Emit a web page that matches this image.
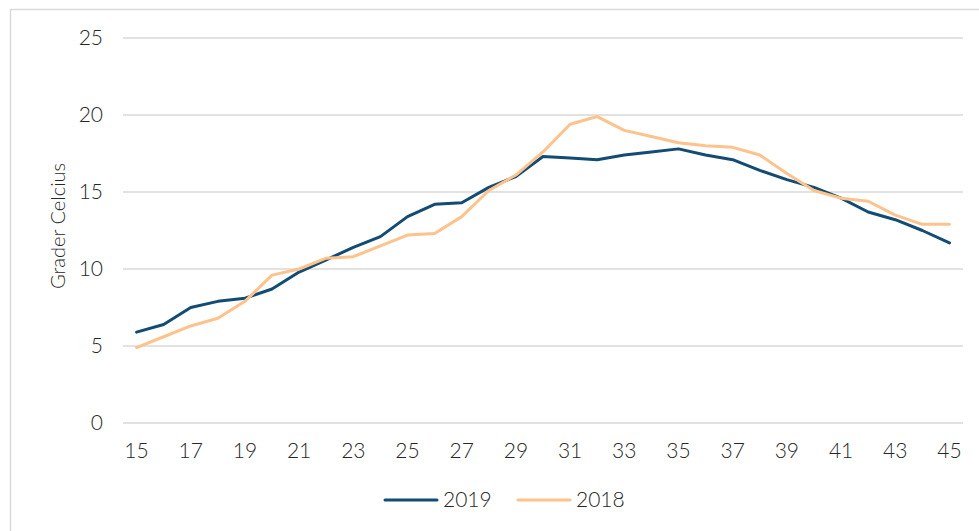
<!DOCTYPE html>
<html lang="en">
  <head>
    <meta charset="utf-8" />
    <title>Grader Celcius 2019 / 2018</title>
    <script src="https://d3js.org/d3.v7.min.js"></script>
    <style>
      body { margin: 0; background: #fff; }
      text { font-family: Lato, "Open Sans", sans-serif; font-weight: 300; fill: #262626; }
    </style>
  </head>
  <body>
    <div id="content"></div>
    <script>
      // weeks 15..45
      const weeks = [15, 16, 17, 18, 19, 20, 21, 22, 23, 24, 25, 26, 27, 28, 29, 30,
        31, 32, 33, 34, 35, 36, 37, 38, 39, 40, 41, 42, 43, 44, 45];
      const temps2019 = [5.9, 6.4, 7.5, 7.9, 8.1, 8.7, 9.8, 10.6, 11.4, 12.1, 13.4, 14.2,
        14.3, 15.3, 16.0, 17.3, 17.2, 17.1, 17.4, 17.6, 17.8, 17.4, 17.1, 16.4, 15.8,
        15.3, 14.6, 13.7, 13.2, 12.5, 11.7];
      const temps2018 = [4.9, 5.6, 6.3, 6.8, 7.9, 9.6, 10.0, 10.7, 10.8, 11.5, 12.2, 12.3,
        13.4, 15.1, 16.1, 17.6, 19.4, 19.9, 19.0, 18.6, 18.2, 18.0, 17.9, 17.4, 16.2,
        15.1, 14.6, 14.4, 13.5, 12.9, 12.9];
      const seriesNames = ["2019", "2018"];
      const seriesColors = ["#124b74", "#fec28c"];
      const yTicks = [0, 5, 10, 15, 20, 25];

      const width = 979;
      const height = 531;
      const marginLeft = 123;
      const marginRight = 16;
      const marginTop = 38;
      const plotBottom = 423;

      const svg = d3
        .select("#content")
        .append("svg")
        .attr("width", width)
        .attr("height", height);

      // outer chart border (runs off the right and bottom edges)
      svg
        .append("rect")
        .attr("x", 10.5)
        .attr("y", 9.5)
        .attr("width", width + 20)
        .attr("height", height + 20)
        .attr("fill", "none")
        .attr("stroke", "#d9d9d9")
        .attr("stroke-width", 1.5);

      const x = d3
        .scaleBand()
        .domain(weeks)
        .range([marginLeft, width - marginRight]);

      const y = d3
        .scaleLinear()
        .domain([0, 25])
        .range([plotBottom, marginTop]);

      // gridlines
      svg
        .append("g")
        .selectAll("line")
        .data(yTicks)
        .enter()
        .append("line")
        .attr("x1", marginLeft)
        .attr("x2", width - marginRight)
        .attr("y1", (d) => y(d))
        .attr("y2", (d) => y(d))
        .attr("stroke", "#d9d9d9")
        .attr("stroke-width", 1.5);

      // y tick labels
      svg
        .append("g")
        .selectAll("text")
        .data(yTicks)
        .enter()
        .append("text")
        .attr("x", 103)
        .attr("y", (d) => y(d))
        .attr("dy", "0.35em")
        .attr("text-anchor", "end")
        .attr("font-size", 21)
        .text((d) => d);

      // x tick labels, every other week
      svg
        .append("g")
        .selectAll("text")
        .data(weeks.filter((w, i) => i % 2 === 0))
        .enter()
        .append("text")
        .attr("x", (d) => x(d) + x.bandwidth() / 2)
        .attr("y", 451)
        .attr("dy", "0.35em")
        .attr("text-anchor", "middle")
        .attr("font-size", 21)
        .text((d) => d);

      svg
        .append("text")
        .attr("transform", "translate(58,226) rotate(-90)")
        .attr("text-anchor", "middle")
        .attr("dy", "0.35em")
        .attr("font-size", 20)
        .text("Grader Celcius");

      const line = d3
        .line()
        .x((d, i) => x(weeks[i]) + x.bandwidth() / 2)
        .y((d) => y(d));

      [temps2019, temps2018].forEach((vals, k) => {
        svg
          .append("path")
          .datum(vals)
          .attr("d", line)
          .attr("fill", "none")
          .attr("stroke", seriesColors[k])
          .attr("stroke-width", 3)
          .attr("stroke-linejoin", "round")
          .attr("stroke-linecap", "round");
      });

      // legend
      const legendX = [385, 518];
      seriesNames.forEach((name, k) => {
        const g = svg.append("g").attr("transform", `translate(${legendX[k]},500)`);
        g.append("line")
          .attr("x1", 0)
          .attr("x2", 52)
          .attr("stroke", seriesColors[k])
          .attr("stroke-width", 3)
          .attr("stroke-linecap", "round");
        g.append("text")
          .attr("x", 58)
          .attr("dy", "0.35em")
          .attr("font-size", 21)
          .text(name);
      });
    </script>
  </body>
</html>
